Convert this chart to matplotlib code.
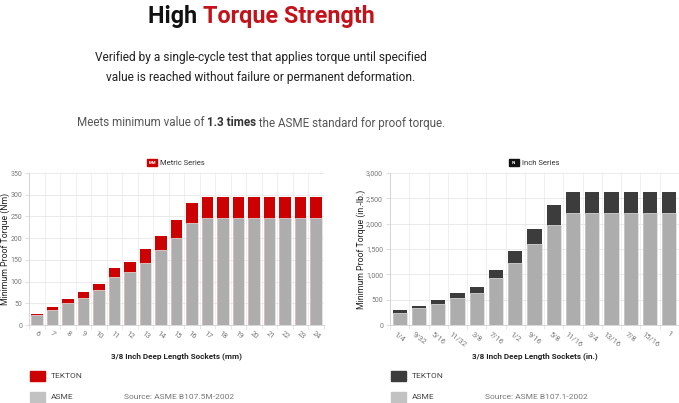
import numpy as np
import matplotlib
matplotlib.use("Agg")
import matplotlib.pyplot as plt
from matplotlib.patches import Rectangle
from matplotlib.ticker import FuncFormatter, MultipleLocator

plt.rcParams['font.family'] = ['Roboto', 'DejaVu Sans']

# ---- data
metric_sizes = ["6", "7", "8", "9", "10", "11", "12", "13", "14", "15", "16",
                "17", "18", "19", "20", "21", "22", "23", "24"]
metric_asme = [22, 34, 50, 62, 80, 110, 121, 143, 173, 200, 234,
               246, 246, 246, 246, 246, 246, 246, 246]
metric_tekton = [25, 41, 59, 76, 95, 132, 146, 174, 206, 241, 282,
                 295, 295, 295, 295, 295, 295, 295, 295]

inch_sizes = ["1/4", "9/32", "5/16", "11/32", "3/8", "7/16", "1/2", "9/16",
              "5/8", "11/16", "3/4", "13/16", "7/8", "15/16", "1"]
inch_asme = [245, 330, 415, 540, 633, 923, 1233, 1602, 1971,
             2202, 2202, 2202, 2202, 2202, 2202]
inch_tekton = [290, 376, 494, 633, 758, 1094, 1463, 1899, 2367,
               2617, 2617, 2617, 2617, 2617, 2617]

RED = "#cc0000"
DARK = "#3c3c3c"
GRAY = "#adadad"
LEG_GRAY = "#c2c2c2"
W, H = 679, 403

fig = plt.figure(figsize=(W / 100, H / 100), dpi=100)


def px_axes(x0, y0, x1, y1):
    return fig.add_axes([x0 / W, 1 - y1 / H, (x1 - x0) / W, (y1 - y0) / H])


def rich_line(parts, cx, y, size):
    # parts: list of (text, color, weight); drawn centred on cx (pixels)
    r = fig.canvas.get_renderer()
    arts, widths = [], []
    for s, c, wt in parts:
        t = fig.text(0, 1 - y / H, s, color=c, fontweight=wt, fontsize=size,
                     va="center", ha="left")
        arts.append(t)
        widths.append(t.get_window_extent(r).width)
    x = cx - sum(widths) / 2
    for t, w in zip(arts, widths):
        t.set_x(x / W)
        x += w


rich_line([("High ", "#111111", "bold"), ("Torque Strength", "#c4121a", "bold")],
          261, 16, 16.8)
rich_line([("Verified by a single-cycle test that applies torque until specified",
            "#222222", "normal")], 261, 57, 8.6)
rich_line([("value is reached without failure or permanent deformation.",
            "#222222", "normal")], 261, 78, 8.6)
rich_line([("Meets minimum value of ", "#555555", "normal"),
           ("1.3 times", "#333333", "bold"),
           (" the ASME standard for proof torque.", "#555555", "normal")],
          261, 123, 8.4)


def draw_chart(ax, sizes, asme, tekton, top_color, ymax, ystep, ylabel, fmt, lab_x):
    x = np.arange(len(sizes))
    ax.bar(x, tekton, width=0.74, color=top_color, zorder=2)
    ax.bar(x, asme, width=0.74, color=GRAY, edgecolor="#e8e8e8",
           linewidth=0.5, zorder=3)
    ax.set_xlim(-0.5, len(sizes) - 0.5)
    ax.set_ylim(0, ymax)
    ax.yaxis.set_major_locator(MultipleLocator(ystep))
    ax.yaxis.set_major_formatter(FuncFormatter(fmt))
    ax.set_xticks(x)
    ax.set_xticklabels(sizes, rotation=-38, ha="center", fontsize=5.4,
                       color="#777777")
    ax.set_xticks(np.arange(len(sizes) + 1) - 0.5, minor=True)
    ax.tick_params(axis="x", which="major", length=0, pad=4)
    ax.tick_params(axis="x", which="minor", length=3, color="#e0e0e0")
    ax.tick_params(axis="y", labelsize=5, labelcolor="#777777",
                   length=3, color="#e0e0e0", pad=2)
    ax.grid(True, axis="y", color="#e6e6e6", linewidth=0.6, zorder=0)
    ax.grid(True, axis="x", which="minor", color="#ededed", linewidth=0.6, zorder=0)
    for s in ("top", "right"):
        ax.spines[s].set_visible(False)
    for s in ("left", "bottom"):
        ax.spines[s].set_color("#d0d0d0")
        ax.spines[s].set_linewidth(0.6)
    ax.set_ylabel(ylabel, fontsize=6.3, color="#222222")
    ax.yaxis.set_label_coords(lab_x, 0.5)
    ax.set_axisbelow(True)


ax1 = px_axes(29, 173, 324, 325)
draw_chart(ax1, metric_sizes, metric_asme, metric_tekton, RED, 350, 50,
           "Minimum Proof Torque (Nm)", lambda v, p: f"{int(v)}", -0.064)
ax2 = px_axes(390, 173, 679, 325)
draw_chart(ax2, inch_sizes, inch_asme, inch_tekton, DARK, 3000, 500,
           "Minimum Proof Torque (in.-lb.)", lambda v, p: f"{int(v):,}", -0.083)


def series_tag(cx, y, color, tag, label):
    r = fig.canvas.get_renderer()
    t = fig.text(0, 1 - y / H, label, fontsize=5.5, color="#333333",
                 va="center", ha="left")
    tw = t.get_window_extent(r).width
    bw = 10
    x0 = cx - (tw + bw + 3) / 2
    fig.patches.append(Rectangle((x0 / W, 1 - (y + 3.5) / H), bw / W, 7 / H,
                                 transform=fig.transFigure, color=color))
    fig.text((x0 + bw / 2) / W, 1 - y / H, tag, fontsize=3.2, color="white",
             fontweight="bold", ha="center", va="center")
    t.set_x((x0 + bw + 3) / W)


series_tag(176, 163, RED, "MM", "Metric Series")
series_tag(534, 163, "#111111", "IN", "Inch Series")

fig.text(176 / W, 1 - 356 / H, "3/8 Inch Deep Length Sockets (mm)",
         fontsize=5.9, fontweight="bold", color="#222222", ha="center", va="center")
fig.text(535 / W, 1 - 356 / H, "3/8 Inch Deep Length Sockets (in.)",
         fontsize=5.9, fontweight="bold", color="#222222", ha="center", va="center")


def legend_block(x, top_color, src_x, source):
    for y, c, lab in ((376, top_color, "TEKTON"), (397, LEG_GRAY, "ASME")):
        fig.patches.append(Rectangle((x / W, 1 - (y + 5) / H), 15 / W, 10 / H,
                                     transform=fig.transFigure, color=c))
        fig.text((x + 21) / W, 1 - y / H, lab, fontsize=6, color="#444444",
                 va="center", ha="left")
    fig.text(src_x / W, 1 - 397 / H, source, fontsize=6, color="#777777",
             va="center", ha="left")


legend_block(30, RED, 124, "Source: ASME B107.5M-2002")
legend_block(391, DARK, 485, "Source: ASME B107.1-2002")

fig.savefig("out.png", dpi=100)
